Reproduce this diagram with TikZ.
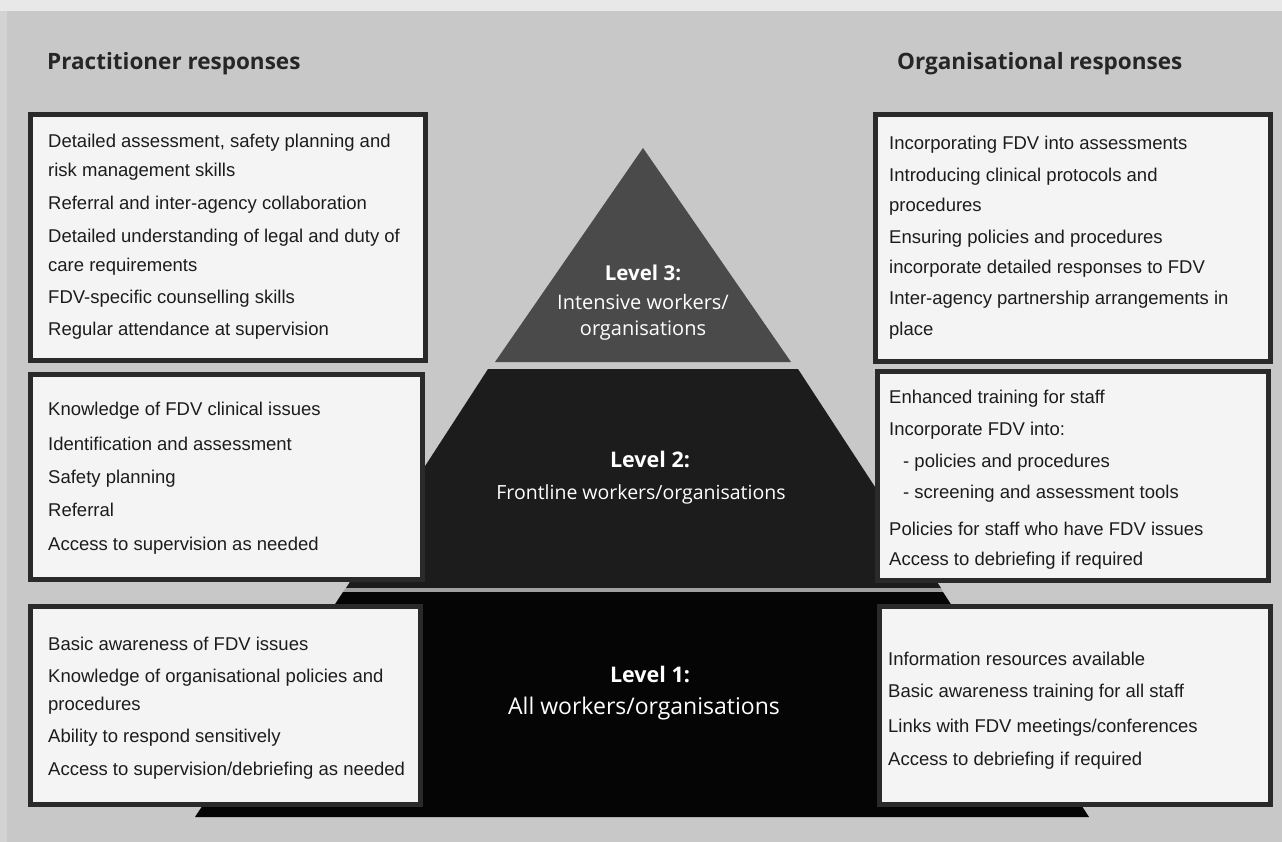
\documentclass[tikz,border=0pt]{standalone}
\usepackage{fontspec}
\setmainfont{Liberation Sans}
\newfontfamily\hdfont{Open Sans}
\definecolor{bgc}{RGB}{200,200,200}
\definecolor{topc}{RGB}{232,232,232}
\definecolor{lvthree}{RGB}{74,74,74}
\definecolor{lvtwo}{RGB}{28,28,28}
\definecolor{lvone}{RGB}{5,5,5}
\definecolor{sepc}{RGB}{160,160,160}
\definecolor{boxfill}{RGB}{244,244,244}
\definecolor{boxline}{RGB}{42,42,42}
\definecolor{txtc}{RGB}{28,28,28}
\begin{document}
\begin{tikzpicture}[x=1pt,y=-1pt,
  boxst/.style={draw=boxline,fill=boxfill,line width=4.2pt},
  txt/.style={anchor=base west,inner sep=0pt,text=txtc,font=\fontsize{18.5}{22}\selectfont},
  hd/.style={anchor=base west,inner sep=0pt,text=black!85,font=\hdfont\bfseries\fontsize{22.5}{26}\selectfont},
  lvb/.style={anchor=base,inner sep=0pt,text=white,font=\hdfont\bfseries\fontsize{#1}{24}\selectfont},
  lvr/.style={anchor=base,inner sep=0pt,text=white,font=\hdfont\fontsize{#1}{24}\selectfont}]
\useasboundingbox (0,0) rectangle (1282,842);
\fill[bgc] (0,0) rectangle (1282,842);
\fill[topc] (0,0) rectangle (1282,11);
\fill[bgc!80!white] (0,11) rectangle (7,842);
% pyramid
\fill[lvthree] (643,148) -- (791,362) -- (495,362) -- cycle;
\fill[lvtwo] (488,369) -- (798,369) -- (941,588) -- (346,588) -- cycle;
\fill[sepc] (346,588) -- (941,588) -- (943,592) -- (343,592) -- cycle;
\fill[lvone] (343,592) -- (943,592) -- (1089,817) -- (195,817) -- cycle;
% boxes
\draw[boxst] (30.5,114.5) rectangle (425.5,360.5);
\draw[boxst] (30.5,374.5) rectangle (422.5,579.5);
\draw[boxst] (30.5,606.5) rectangle (420.5,804.5);
\draw[boxst] (875.5,114.5) rectangle (1270.5,361.5);
\draw[boxst] (877.5,371.5) rectangle (1268.5,580.5);
\draw[boxst] (879.5,606.5) rectangle (1270.5,804.5);
% headers
\node[hd] (hl) at (47,70) {Practitioner responses};
\node[hd] (hr) at (897,70) {Organisational responses};
% left top
\node[txt] (a1) at (48,148) {Detailed assessment, safety planning and};
\node[txt] (a2) at (48,177) {risk management skills};
\node[txt] (a3) at (48,210) {Referral and inter-agency collaboration};
\node[txt] (a4) at (48,243) {Detailed understanding of legal and duty of};
\node[txt] (a5) at (48,272) {care requirements};
\node[txt] (a6) at (48,304) {FDV-specific counselling skills};
\node[txt] (a7) at (48,335) {Regular attendance at supervision};
% left middle
\node[txt] (b1) at (48,415) {Knowledge of FDV clinical issues};
\node[txt] (b2) at (48,450) {Identification and assessment};
\node[txt] (b3) at (48,483) {Safety planning};
\node[txt] (b4) at (48,516) {Referral};
\node[txt] (b5) at (48,550) {Access to supervision as needed};
% left bottom
\node[txt] (c1) at (48,650) {Basic awareness of FDV issues};
\node[txt] (c2) at (48,682) {Knowledge of organisational policies and};
\node[txt] (c3) at (48,710) {procedures};
\node[txt] (c4) at (48,742) {Ability to respond sensitively};
\node[txt] (c5) at (48,775) {Access to supervision/debriefing as needed};
% right top
\node[txt] (d1) at (889,150) {Incorporating FDV into assessments};
\node[txt] (d2) at (889,182) {Introducing clinical protocols and};
\node[txt] (d3) at (889,212) {procedures};
\node[txt] (d4) at (889,244) {Ensuring policies and procedures};
\node[txt] (d5) at (889,273) {incorporate detailed responses to FDV};
\node[txt] (d6) at (889,305) {Inter-agency partnership arrangements in};
\node[txt] (d7) at (889,335) {place};
% right middle
\node[txt] (e1) at (889,403) {Enhanced training for staff};
\node[txt] (e2) at (889,435) {Incorporate FDV into:};
\node[txt] (e3) at (903,467) {- policies and procedures};
\node[txt] (e4) at (903,498) {- screening and assessment tools};
\node[txt] (e5) at (889,535) {Policies for staff who have FDV issues};
\node[txt] (e6) at (889,565) {Access to debriefing if required};
% right bottom
\node[txt] (f1) at (888,665) {Information resources available};
\node[txt] (f2) at (888,697) {Basic awareness training for all staff};
\node[txt] (f3) at (888,732) {Links with FDV meetings/conferences};
\node[txt] (f4) at (888,765) {Access to debriefing if required};
% level labels
\node[lvb=20.5] (l3a) at (643,280) {Level 3:};
\node[lvr=20] (l3b) at (643,309) {Intensive workers/};
\node[lvr=20] (l3c) at (643,335) {organisations};
\node[lvb=21.5] (l2a) at (650,467) {Level 2:};
\node[lvr=19.5] (l2b) at (641,499) {Frontline workers/organisations};
\node[lvb=21.5] (l1a) at (650,682) {Level 1:};
\node[lvr=23] (l1b) at (644,714) {All workers/organisations};
\end{tikzpicture}
\end{document}
